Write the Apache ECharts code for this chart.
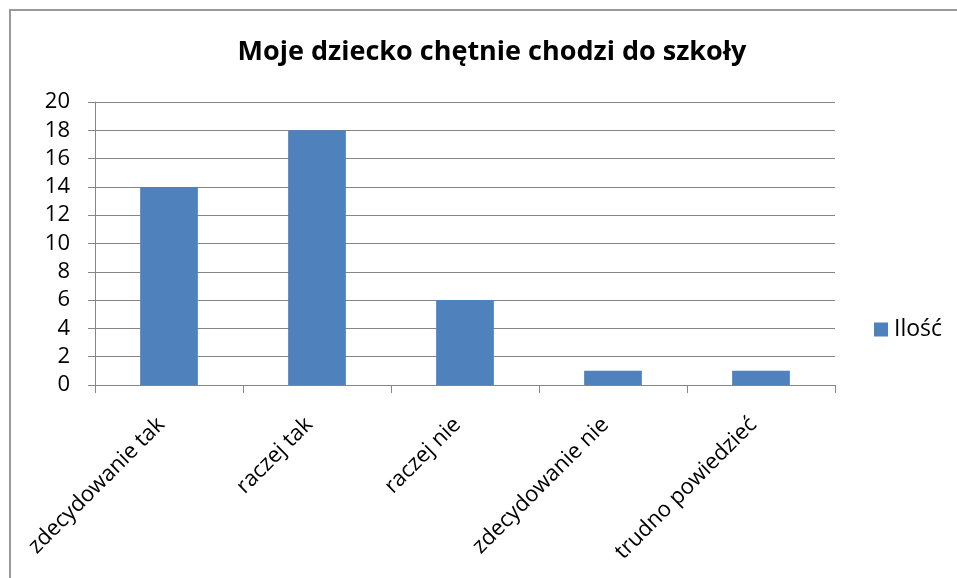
<!DOCTYPE html>
<html>
<head>
<meta charset="utf-8">
<script src="https://cdn.jsdelivr.net/npm/echarts@6/dist/echarts.min.js"></script>
<style>
html,body{margin:0;padding:0;background:#fff;}
#chart{width:957px;height:578px;}
</style>
</head>
<body>
<div id="chart"></div>
<script>
const titleText = 'Moje dziecko chętnie chodzi do szkoły';
const categories = ['zdecydowanie tak', 'raczej tak', 'raczej nie', 'zdecydowanie nie', 'trudno powiedzieć'];
const seriesName = 'Ilość';
const values = [14, 18, 6, 1, 1];
const yMin = 0, yMax = 20, yStep = 2;

const FONT = '"Open Sans", sans-serif';
const gridColor = '#868686';

const chart = echarts.init(document.getElementById('chart'), null, {renderer: 'canvas'});
chart.setOption({
  animation: false,
  backgroundColor: '#ffffff',
  graphic: [{
    type: 'rect',
    shape: {x: 10, y: 10, width: 980, height: 600},
    style: {fill: 'none', stroke: '#9a9a9a', lineWidth: 2},
    silent: true, z: -1
  }],
  title: {
    text: titleText,
    left: 487,
    top: 34,
    textAlign: 'center',
    textStyle: {fontFamily: FONT, fontWeight: 'bold', fontSize: 27, color: '#000'}
  },
  legend: {
    data: [seriesName],
    left: 874,
    top: 318,
    padding: 0,
    icon: 'rect',
    itemWidth: 14,
    itemHeight: 14,
    itemGap: 6,
    textStyle: {fontFamily: FONT, fontSize: 23, color: '#000', padding: [0, 0, 0, 1]}
  },
  grid: {left: 95, right: 122, top: 102, bottom: 193, containLabel: false},
  xAxis: {
    type: 'category',
    data: categories,
    boundaryGap: true,
    axisLine: {show: true, lineStyle: {color: gridColor, width: 1}},
    axisTick: {show: true, length: 8, alignWithLabel: false, lineStyle: {color: gridColor}},
    axisLabel: {
      interval: 0,
      rotate: 45,
      margin: 44,
      verticalAlign: 'bottom',
      lineHeight: 22,
      fontFamily: FONT,
      fontSize: 22,
      color: '#000'
    },
    splitLine: {show: false}
  },
  yAxis: {
    type: 'value',
    min: yMin,
    max: yMax,
    interval: yStep,
    axisLine: {show: true, lineStyle: {color: gridColor, width: 1}},
    axisTick: {show: true, length: 7, lineStyle: {color: gridColor}},
    axisLabel: {margin: 25, fontFamily: FONT, fontSize: 22, color: '#000'},
    splitLine: {show: true, lineStyle: {color: gridColor, width: 1}}
  },
  series: [{
    name: seriesName,
    type: 'bar',
    data: values,
    barCategoryGap: '61%',
    itemStyle: {color: '#4F81BD'}
  }]
});
</script>
</body>
</html>
